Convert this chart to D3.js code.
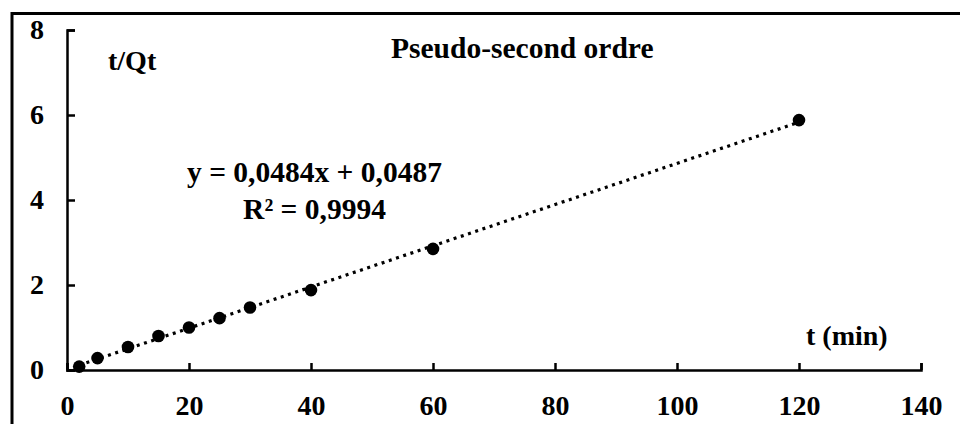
<!DOCTYPE html>
<html>
<head>
<meta charset="utf-8">
<script src="https://cdn.jsdelivr.net/npm/d3@7"></script>
<style>
  html, body { margin: 0; padding: 0; background: #fff; }
  svg { display: block; }
  text { font-family: "Liberation Serif", "Times New Roman", serif; font-weight: bold; fill: #000; }
</style>
</head>
<body>
<svg id="chart" width="960" height="424"></svg>
<script>
// ---- data ----
const times = [2, 5, 10, 15, 20, 25, 30, 40, 60, 120];
const tOverQt = [0.08, 0.28, 0.54, 0.80, 1.00, 1.22, 1.47, 1.88, 2.85, 5.88];
const xTicks = [0, 20, 40, 60, 80, 100, 120, 140];
const yTicks = [0, 2, 4, 6, 8];
const titleText = "Pseudo-second ordre";
const yLabel = "t/Qt";
const xLabel = "t (min)";
const equationLines = ["y = 0,0484x + 0,0487", "R\u00B2 = 0,9994"];

// ---- layout ----
const svg = d3.select("#chart");
const x = d3.scaleLinear().domain([0, 140]).range([67, 921]);
const y = d3.scaleLinear().domain([0, 8]).range([370, 30]);

// outer frame (extends beyond the picture right/bottom)
svg.append("rect")
  .attr("x", 12).attr("y", 13.5)
  .attr("width", 1000).attr("height", 500)
  .attr("fill", "none").attr("stroke", "#000").attr("stroke-width", 3);

// axes
const xAxis = d3.axisBottom(x).tickValues(xTicks).tickSizeInner(-7).tickSizeOuter(-7).tickPadding(25).tickFormat(d3.format("d"));
const yAxis = d3.axisLeft(y).tickValues(yTicks).tickSizeInner(-8).tickSizeOuter(-8).tickPadding(24).tickFormat(d3.format("d"));

const gx = svg.append("g").attr("transform", `translate(0,${y(0)})`).call(xAxis);
const gy = svg.append("g").attr("transform", `translate(${x(0)},0)`).call(yAxis);
[gx, gy].forEach(g => {
  g.select(".domain").attr("stroke", "#000").attr("stroke-width", 2.5);
  g.selectAll(".tick line").attr("stroke", "#000").attr("stroke-width", 2.5);
  g.selectAll(".tick text")
    .style("font-family", '"Liberation Serif", "Times New Roman", serif')
    .style("font-weight", "bold").style("font-size", "28px").attr("fill", "#000");
});
gx.selectAll(".tick text").attr("dy", "0.71em");
gy.selectAll(".tick text").attr("text-anchor", "middle").attr("x", -30);

// linear regression computed from the data
const mx = d3.mean(times), my = d3.mean(tOverQt);
const slope = d3.sum(times.map((t, i) => (t - mx) * (tOverQt[i] - my))) / d3.sum(times.map(t => (t - mx) ** 2));
const intercept = my - slope * mx;
const tMin = d3.min(times), tMax = d3.max(times);

svg.append("line")
  .attr("x1", x(tMin)).attr("y1", y(slope * tMin + intercept))
  .attr("x2", x(tMax)).attr("y2", y(slope * tMax + intercept))
  .attr("stroke", "#000").attr("stroke-width", 3.2)
  .attr("stroke-dasharray", "3 4.6");

// points
svg.append("g").selectAll("circle")
  .data(times.map((t, i) => ({ t, v: tOverQt[i] })))
  .join("circle")
  .attr("cx", d => x(d.t)).attr("cy", d => y(d.v))
  .attr("r", 6.3).attr("fill", "#000");

// texts
svg.append("text").attr("x", 391).attr("y", 58).style("font-size", "29.5px").text(titleText);
svg.append("text").attr("x", 108).attr("y", 70).style("font-size", "28px").text(yLabel);
svg.append("text").attr("x", 806).attr("y", 345).style("font-size", "28px").text(xLabel);
svg.append("g").selectAll("text")
  .data(equationLines).join("text")
  .attr("x", 314.5).attr("y", (d, i) => 182 + i * 37)
  .attr("text-anchor", "middle").style("font-size", "29.5px")
  .text(d => d);
</script>
</body>
</html>
